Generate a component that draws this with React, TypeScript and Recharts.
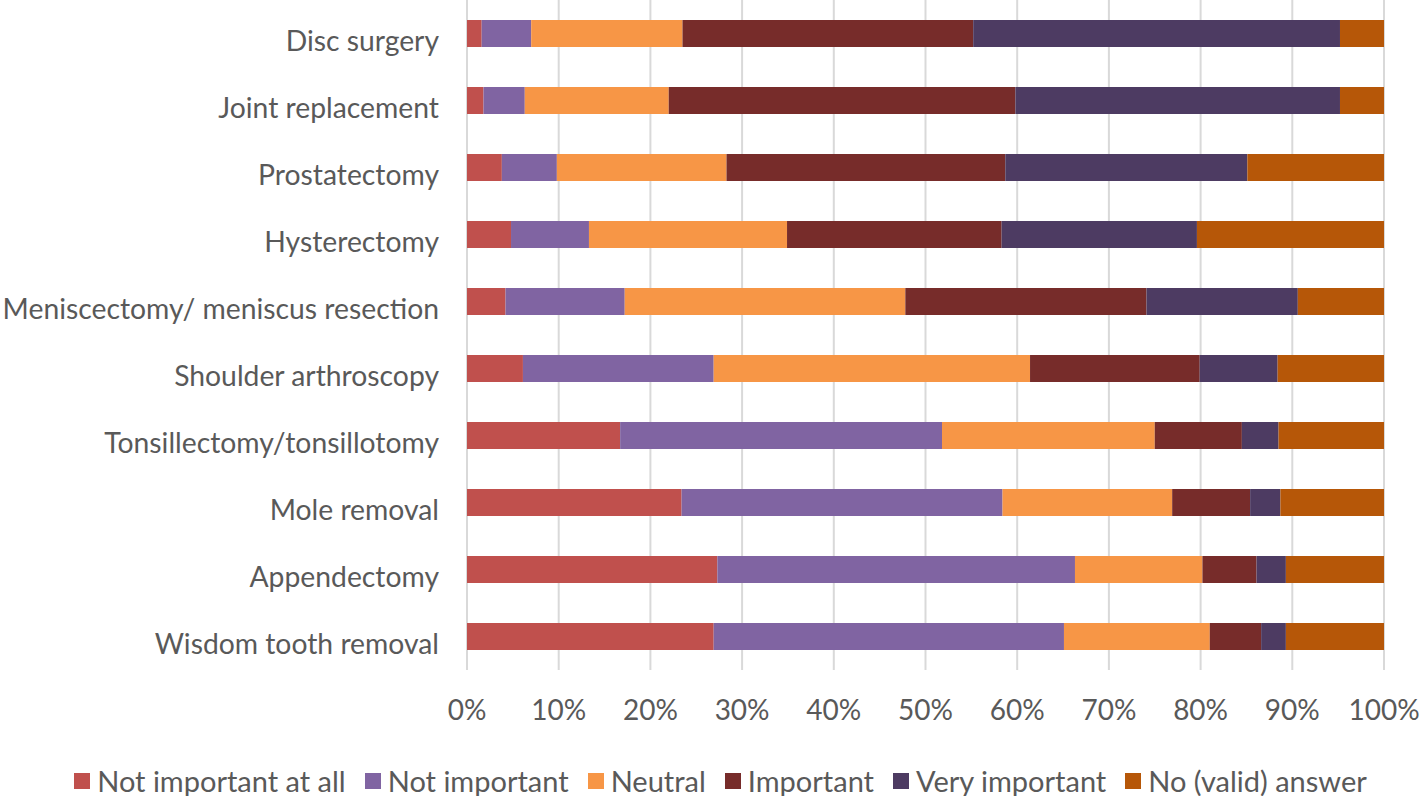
import React from 'react';
import { BarChart, Bar, XAxis, YAxis, CartesianGrid, Legend } from 'recharts';

const categories = [
  'Disc surgery',
  'Joint replacement',
  'Prostatectomy',
  'Hysterectomy',
  'Meniscectomy/ meniscus resection',
  'Shoulder arthroscopy',
  'Tonsillectomy/tonsillotomy',
  'Mole removal',
  'Appendectomy',
  'Wisdom tooth removal',
];
const notImportantAtAll = [1.6, 1.8, 3.8, 4.8, 4.2, 6.1, 16.7, 23.4, 27.3, 26.9];
const notImportant = [5.4, 4.5, 6.0, 8.5, 13.0, 20.8, 35.1, 35.0, 39.0, 38.2];
const neutral = [16.5, 15.7, 18.5, 21.6, 30.6, 34.5, 23.2, 18.5, 13.9, 15.9];
const important = [31.7, 37.8, 30.4, 23.4, 26.3, 18.5, 9.5, 8.5, 5.9, 5.6];
const veryImportant = [40.0, 35.4, 26.4, 21.3, 16.5, 8.5, 4.0, 3.3, 3.2, 2.7];
const noAnswer = [4.8, 4.8, 14.9, 20.4, 9.4, 11.6, 11.5, 11.3, 10.7, 10.7];
const xTicks = [0, 10, 20, 30, 40, 50, 60, 70, 80, 90, 100];

const seriesNames = [
  'Not important at all',
  'Not important',
  'Neutral',
  'Important',
  'Very important',
  'No (valid) answer',
];
const seriesColors = ['#C0504D', '#8064A2', '#F79646', '#772C2A', '#4D3B62', '#B65708'];
const seriesValues = [notImportantAtAll, notImportant, neutral, important, veryImportant, noAnswer];

const data = categories.map((name, i) => {
  const row: Record<string, any> = { name };
  seriesNames.forEach((s, k) => {
    row[s] = seriesValues[k][i];
  });
  return row;
});

const FONT = 'Lato, "Open Sans", sans-serif';
const TEXT = '#595959';

const LegendContent = () => (
  <div
    style={{
      display: 'flex',
      justifyContent: 'center',
      alignItems: 'center',
      fontFamily: FONT,
      fontSize: 29,
      color: TEXT,
      lineHeight: '36px',
    }}
  >
    {seriesNames.map((s, k) => (
      <div key={s} style={{ display: 'flex', alignItems: 'center', marginRight: k < seriesNames.length - 1 ? 19 : 0 }}>
        <span style={{ display: 'inline-block', width: 16, height: 16, background: seriesColors[k], marginRight: 7 }} />
        <span>{s}</span>
      </div>
    ))}
  </div>
);

const YTick = (props: any) => {
  const { x, y, payload } = props;
  return (
    <text x={x} y={y} dy={6} textAnchor="end" dominantBaseline="central" fill={TEXT} fontSize={28.3} fontFamily={FONT}>
      {payload.value}
    </text>
  );
};

export default function App() {
  return (
    <div style={{ position: 'absolute', left: 0, top: 0, background: '#fff' }}>
      <BarChart
        width={1421}
        height={796}
        data={data}
        layout="vertical"
        margin={{ top: 0, right: 37, bottom: 66, left: 0 }}
        barSize={27}
      >
        <CartesianGrid horizontal={false} stroke="#D9D9D9" strokeWidth={2} />
        <XAxis
          type="number"
          domain={[0, 100]}
          ticks={xTicks}
          tickFormatter={(v: number) => `${v}%`}
          axisLine={false}
          tickLine={false}
          tickSize={0}
          tickMargin={30}
          height={60}
          interval={0}
          tick={{ fill: TEXT, fontSize: 28, fontFamily: FONT }}
        />
        <YAxis
          type="category"
          dataKey="name"
          width={467}
          axisLine={false}
          tickLine={false}
          tickSize={0}
          tickMargin={28}
          interval={0}
          tick={<YTick />}
        />
        <Legend
          layout="horizontal"
          verticalAlign="middle"
          align="center"
          content={<LegendContent />}
          wrapperStyle={{ top: 763, left: 20, width: 1401 }}
        />
        {seriesNames.map((s, k) => (
          <Bar key={s} dataKey={s} stackId="a" fill={seriesColors[k]} isAnimationActive={false} />
        ))}
      </BarChart>
    </div>
  );
}
